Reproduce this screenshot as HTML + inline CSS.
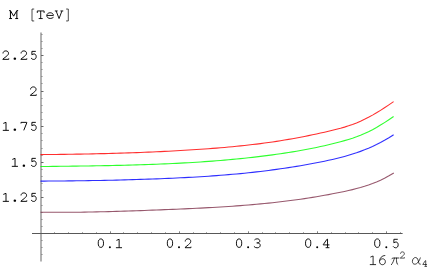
<!DOCTYPE html>
<html><head><meta charset="utf-8"><style>
html,body{margin:0;padding:0;background:#fff;}
svg{display:block}
</style></head><body>
<svg width="436" height="270" viewBox="0 0 436 270">
<rect width="436" height="270" fill="#fff"/>
<rect x="40" y="32.5" width="2" height="229" fill="#b2b2b2"/>
<rect x="32" y="233" width="370.6" height="1" fill="#585858"/>
<rect x="54" y="232.1" width="1" height="0.9" fill="#a0a0a0"/>
<rect x="68" y="232.1" width="1" height="0.9" fill="#a0a0a0"/>
<rect x="82" y="232.1" width="1" height="0.9" fill="#a0a0a0"/>
<rect x="96" y="232.1" width="1" height="0.9" fill="#a0a0a0"/>
<rect x="110" y="231.3" width="1" height="1.7" fill="#808080"/>
<rect x="123" y="232.1" width="1" height="0.9" fill="#a0a0a0"/>
<rect x="137" y="232.1" width="1" height="0.9" fill="#a0a0a0"/>
<rect x="151" y="232.1" width="1" height="0.9" fill="#a0a0a0"/>
<rect x="165" y="232.1" width="1" height="0.9" fill="#a0a0a0"/>
<rect x="179" y="231.3" width="1" height="1.7" fill="#808080"/>
<rect x="193" y="232.1" width="1" height="0.9" fill="#a0a0a0"/>
<rect x="206" y="232.1" width="1" height="0.9" fill="#a0a0a0"/>
<rect x="220" y="232.1" width="1" height="0.9" fill="#a0a0a0"/>
<rect x="234" y="232.1" width="1" height="0.9" fill="#a0a0a0"/>
<rect x="248" y="231.3" width="1" height="1.7" fill="#808080"/>
<rect x="262" y="232.1" width="1" height="0.9" fill="#a0a0a0"/>
<rect x="275" y="232.1" width="1" height="0.9" fill="#a0a0a0"/>
<rect x="289" y="232.1" width="1" height="0.9" fill="#a0a0a0"/>
<rect x="303" y="232.1" width="1" height="0.9" fill="#a0a0a0"/>
<rect x="317" y="231.3" width="1" height="1.7" fill="#808080"/>
<rect x="331" y="232.1" width="1" height="0.9" fill="#a0a0a0"/>
<rect x="345" y="232.1" width="1" height="0.9" fill="#a0a0a0"/>
<rect x="358" y="232.1" width="1" height="0.9" fill="#a0a0a0"/>
<rect x="372" y="232.1" width="1" height="0.9" fill="#a0a0a0"/>
<rect x="386" y="231.3" width="1" height="1.7" fill="#808080"/>
<rect x="400" y="232.1" width="1" height="0.9" fill="#a0a0a0"/>
<rect x="41" y="254" width="1.55" height="1" fill="#8e8e8e"/>
<rect x="41" y="247" width="1.55" height="1" fill="#8e8e8e"/>
<rect x="41" y="240" width="1.55" height="1" fill="#8e8e8e"/>
<rect x="41" y="226" width="1.55" height="1" fill="#8e8e8e"/>
<rect x="41" y="219" width="1.55" height="1" fill="#8e8e8e"/>
<rect x="41" y="212" width="1.55" height="1" fill="#8e8e8e"/>
<rect x="41" y="205" width="1.55" height="1" fill="#8e8e8e"/>
<rect x="41" y="197" width="2.5" height="1" fill="#666"/>
<rect x="41" y="190" width="1.55" height="1" fill="#8e8e8e"/>
<rect x="41" y="183" width="1.55" height="1" fill="#8e8e8e"/>
<rect x="41" y="176" width="1.55" height="1" fill="#8e8e8e"/>
<rect x="41" y="169" width="1.55" height="1" fill="#8e8e8e"/>
<rect x="41" y="162" width="2.5" height="1" fill="#666"/>
<rect x="41" y="155" width="1.55" height="1" fill="#8e8e8e"/>
<rect x="41" y="148" width="1.55" height="1" fill="#8e8e8e"/>
<rect x="41" y="140" width="1.55" height="1" fill="#8e8e8e"/>
<rect x="41" y="133" width="1.55" height="1" fill="#8e8e8e"/>
<rect x="41" y="126" width="2.5" height="1" fill="#666"/>
<rect x="41" y="119" width="1.55" height="1" fill="#8e8e8e"/>
<rect x="41" y="112" width="1.55" height="1" fill="#8e8e8e"/>
<rect x="41" y="105" width="1.55" height="1" fill="#8e8e8e"/>
<rect x="41" y="98" width="1.55" height="1" fill="#8e8e8e"/>
<rect x="41" y="91" width="2.5" height="1" fill="#666"/>
<rect x="41" y="83" width="1.55" height="1" fill="#8e8e8e"/>
<rect x="41" y="76" width="1.55" height="1" fill="#8e8e8e"/>
<rect x="41" y="69" width="1.55" height="1" fill="#8e8e8e"/>
<rect x="41" y="62" width="1.55" height="1" fill="#8e8e8e"/>
<rect x="41" y="55" width="2.5" height="1" fill="#666"/>
<rect x="41" y="48" width="1.55" height="1" fill="#8e8e8e"/>
<rect x="41" y="41" width="1.55" height="1" fill="#8e8e8e"/>
<rect x="41" y="34" width="1.55" height="1" fill="#8e8e8e"/>
<polyline points="40.5,212.19 44.5,212.24 48.5,212.28 52.5,212.30 56.5,212.31 60.5,212.32 64.5,212.31 68.5,212.29 72.5,212.26 76.5,212.22 80.5,212.18 84.5,212.12 88.5,212.05 92.5,211.98 96.5,211.90 100.5,211.81 104.5,211.72 108.5,211.62 112.5,211.51 116.5,211.40 120.5,211.28 124.5,211.15 128.5,211.02 132.5,210.88 136.5,210.74 140.5,210.60 144.5,210.45 148.5,210.30 152.5,210.15 156.5,209.99 160.5,209.83 164.5,209.67 168.5,209.51 172.5,209.35 176.5,209.18 180.5,209.01 184.5,208.84 188.5,208.66 192.5,208.47 196.5,208.28 200.5,208.09 204.5,207.88 208.5,207.67 212.5,207.45 216.5,207.22 220.5,206.98 224.5,206.73 228.5,206.47 232.5,206.20 236.5,205.91 240.5,205.62 244.5,205.30 248.5,204.98 252.5,204.64 256.5,204.28 260.5,203.91 264.5,203.52 268.5,203.11 272.5,202.69 276.5,202.25 280.5,201.78 284.5,201.30 288.5,200.80 292.5,200.28 296.5,199.74 300.5,199.17 304.5,198.59 308.5,197.98 312.5,197.35 316.5,196.69 320.5,196.02 324.5,195.31 328.5,194.59 332.5,193.83 336.5,193.06 340.5,192.25 344.5,191.42 348.5,190.54 352.5,189.60 356.5,188.59 360.5,187.49 364.5,186.29 368.5,184.96 372.5,183.50 376.5,181.90 380.5,180.13 384.5,178.20 388.5,176.08 392.5,173.76 393.8,172.97" fill="none" stroke="#80334d" stroke-width="1.1" stroke-opacity="0.82" stroke-linejoin="round"/>
<polyline points="40.5,181.11 44.5,181.09 48.5,181.07 52.5,181.04 56.5,181.01 60.5,180.97 64.5,180.94 68.5,180.90 72.5,180.85 76.5,180.80 80.5,180.75 84.5,180.69 88.5,180.63 92.5,180.57 96.5,180.50 100.5,180.43 104.5,180.35 108.5,180.27 112.5,180.18 116.5,180.09 120.5,179.99 124.5,179.89 128.5,179.78 132.5,179.67 136.5,179.55 140.5,179.42 144.5,179.29 148.5,179.15 152.5,179.01 156.5,178.86 160.5,178.70 164.5,178.54 168.5,178.37 172.5,178.19 176.5,178.01 180.5,177.81 184.5,177.61 188.5,177.40 192.5,177.18 196.5,176.95 200.5,176.71 204.5,176.45 208.5,176.19 212.5,175.91 216.5,175.62 220.5,175.32 224.5,175.00 228.5,174.67 232.5,174.32 236.5,173.96 240.5,173.58 244.5,173.19 248.5,172.78 252.5,172.35 256.5,171.90 260.5,171.44 264.5,170.95 268.5,170.45 272.5,169.92 276.5,169.38 280.5,168.82 284.5,168.23 288.5,167.63 292.5,167.00 296.5,166.35 300.5,165.68 304.5,164.99 308.5,164.28 312.5,163.54 316.5,162.78 320.5,161.99 324.5,161.18 328.5,160.33 332.5,159.43 336.5,158.49 340.5,157.49 344.5,156.43 348.5,155.30 352.5,154.08 356.5,152.78 360.5,151.37 364.5,149.86 368.5,148.23 372.5,146.47 376.5,144.57 380.5,142.53 384.5,140.33 388.5,137.96 392.5,135.42 393.6,134.69" fill="none" stroke="#0000ff" stroke-width="1.1" stroke-opacity="0.82" stroke-linejoin="round"/>
<polyline points="40.5,166.56 44.5,166.51 48.5,166.46 52.5,166.41 56.5,166.36 60.5,166.31 64.5,166.26 68.5,166.21 72.5,166.15 76.5,166.10 80.5,166.04 84.5,165.99 88.5,165.93 92.5,165.87 96.5,165.80 100.5,165.73 104.5,165.66 108.5,165.58 112.5,165.50 116.5,165.42 120.5,165.33 124.5,165.23 128.5,165.13 132.5,165.02 136.5,164.91 140.5,164.79 144.5,164.66 148.5,164.52 152.5,164.38 156.5,164.23 160.5,164.07 164.5,163.90 168.5,163.72 172.5,163.54 176.5,163.34 180.5,163.14 184.5,162.92 188.5,162.69 192.5,162.45 196.5,162.20 200.5,161.94 204.5,161.67 208.5,161.38 212.5,161.08 216.5,160.77 220.5,160.45 224.5,160.11 228.5,159.76 232.5,159.39 236.5,159.01 240.5,158.61 244.5,158.20 248.5,157.77 252.5,157.33 256.5,156.87 260.5,156.39 264.5,155.90 268.5,155.39 272.5,154.86 276.5,154.31 280.5,153.74 284.5,153.15 288.5,152.53 292.5,151.89 296.5,151.22 300.5,150.52 304.5,149.79 308.5,149.04 312.5,148.25 316.5,147.42 320.5,146.57 324.5,145.67 328.5,144.74 332.5,143.77 336.5,142.76 340.5,141.71 344.5,140.61 348.5,139.44 352.5,138.18 356.5,136.80 360.5,135.27 364.5,133.58 368.5,131.71 372.5,129.65 376.5,127.44 380.5,125.08 384.5,122.60 388.5,120.00 392.5,117.31 393.6,116.56" fill="none" stroke="#00ff00" stroke-width="1.1" stroke-opacity="0.82" stroke-linejoin="round"/>
<polyline points="40.5,154.59 44.5,154.56 48.5,154.52 52.5,154.48 56.5,154.44 60.5,154.39 64.5,154.33 68.5,154.28 72.5,154.22 76.5,154.15 80.5,154.09 84.5,154.01 88.5,153.94 92.5,153.85 96.5,153.77 100.5,153.67 104.5,153.58 108.5,153.47 112.5,153.36 116.5,153.25 120.5,153.13 124.5,153.00 128.5,152.87 132.5,152.73 136.5,152.59 140.5,152.44 144.5,152.28 148.5,152.12 152.5,151.94 156.5,151.77 160.5,151.58 164.5,151.39 168.5,151.18 172.5,150.98 176.5,150.76 180.5,150.54 184.5,150.30 188.5,150.06 192.5,149.81 196.5,149.55 200.5,149.29 204.5,149.01 208.5,148.72 212.5,148.42 216.5,148.10 220.5,147.77 224.5,147.43 228.5,147.07 232.5,146.70 236.5,146.31 240.5,145.91 244.5,145.48 248.5,145.04 252.5,144.57 256.5,144.09 260.5,143.59 264.5,143.06 268.5,142.51 272.5,141.94 276.5,141.34 280.5,140.72 284.5,140.07 288.5,139.40 292.5,138.70 296.5,137.97 300.5,137.22 304.5,136.44 308.5,135.63 312.5,134.80 316.5,133.95 320.5,133.08 324.5,132.19 328.5,131.27 332.5,130.33 336.5,129.33 340.5,128.27 344.5,127.11 348.5,125.85 352.5,124.44 356.5,122.89 360.5,121.17 364.5,119.30 368.5,117.28 372.5,115.11 376.5,112.80 380.5,110.36 384.5,107.81 388.5,105.16 392.5,102.42 393.6,101.65" fill="none" stroke="#ff0000" stroke-width="1.1" stroke-opacity="0.82" stroke-linejoin="round"/>
<g fill="none" stroke="#000" stroke-width="0.98" stroke-linecap="butt" stroke-linejoin="miter">
<g transform="translate(5.81 59.35) scale(1 0.95)"><path d="M-2.8,-6.2 C-2.8,-8.0 -1.5,-8.9 0,-8.9 C1.6,-8.9 2.7,-7.9 2.7,-6.4 C2.7,-5.1 1.9,-4.3 0.4,-3.0 L-3.0,-0.2 L-3.0,0 L2.95,0 L2.95,-1.0"/></g>
<g transform="translate(14.84 59.35) scale(1 0.95)"><circle cx="0" cy="-0.7" r="1.25" fill="#000" stroke="none"/></g>
<g transform="translate(23.87 59.35) scale(1 0.95)"><path d="M-2.8,-6.2 C-2.8,-8.0 -1.5,-8.9 0,-8.9 C1.6,-8.9 2.7,-7.9 2.7,-6.4 C2.7,-5.1 1.9,-4.3 0.4,-3.0 L-3.0,-0.2 L-3.0,0 L2.95,0 L2.95,-1.0"/></g>
<g transform="translate(33.70 59.35) scale(1 0.95)"><path d="M2.1,-8.4 L-1.8,-8.4 L-1.8,-4.8 C-1.1,-5.4 -0.4,-5.7 0.3,-5.7 C1.7,-5.7 2.5,-4.5 2.5,-2.9 C2.5,-1.1 1.5,0.1 0,0.1 C-1.1,0.1 -2.0,-0.4 -2.6,-1.4"/></g>
<g transform="translate(33.35 95.35) scale(1 0.95)"><path d="M-2.8,-6.2 C-2.8,-8.0 -1.5,-8.9 0,-8.9 C1.6,-8.9 2.7,-7.9 2.7,-6.4 C2.7,-5.1 1.9,-4.3 0.4,-3.0 L-3.0,-0.2 L-3.0,0 L2.95,0 L2.95,-1.0"/></g>
<g transform="translate(5.81 130.35) scale(1 0.95)"><path d="M0.2,0 L0.2,-8.45 L-2.5,-7.3 M-3.0,0 L3.1,0"/></g>
<g transform="translate(14.84 130.35) scale(1 0.95)"><circle cx="0" cy="-0.7" r="1.25" fill="#000" stroke="none"/></g>
<g transform="translate(23.87 130.35) scale(1 0.95)"><path d="M-2.9,-7.2 L-2.9,-8.4 L2.9,-8.4 L2.9,-7.9 L-0.1,0"/></g>
<g transform="translate(33.70 130.35) scale(1 0.95)"><path d="M2.1,-8.4 L-1.8,-8.4 L-1.8,-4.8 C-1.1,-5.4 -0.4,-5.7 0.3,-5.7 C1.7,-5.7 2.5,-4.5 2.5,-2.9 C2.5,-1.1 1.5,0.1 0,0.1 C-1.1,0.1 -2.0,-0.4 -2.6,-1.4"/></g>
<g transform="translate(14.84 166.35) scale(1 0.95)"><path d="M0.2,0 L0.2,-8.45 L-2.5,-7.3 M-3.0,0 L3.1,0"/></g>
<g transform="translate(23.87 166.35) scale(1 0.95)"><circle cx="0" cy="-0.7" r="1.25" fill="#000" stroke="none"/></g>
<g transform="translate(33.70 166.35) scale(1 0.95)"><path d="M2.1,-8.4 L-1.8,-8.4 L-1.8,-4.8 C-1.1,-5.4 -0.4,-5.7 0.3,-5.7 C1.7,-5.7 2.5,-4.5 2.5,-2.9 C2.5,-1.1 1.5,0.1 0,0.1 C-1.1,0.1 -2.0,-0.4 -2.6,-1.4"/></g>
<g transform="translate(5.81 201.35) scale(1 0.95)"><path d="M0.2,0 L0.2,-8.45 L-2.5,-7.3 M-3.0,0 L3.1,0"/></g>
<g transform="translate(14.84 201.35) scale(1 0.95)"><circle cx="0" cy="-0.7" r="1.25" fill="#000" stroke="none"/></g>
<g transform="translate(23.87 201.35) scale(1 0.95)"><path d="M-2.8,-6.2 C-2.8,-8.0 -1.5,-8.9 0,-8.9 C1.6,-8.9 2.7,-7.9 2.7,-6.4 C2.7,-5.1 1.9,-4.3 0.4,-3.0 L-3.0,-0.2 L-3.0,0 L2.95,0 L2.95,-1.0"/></g>
<g transform="translate(33.70 201.35) scale(1 0.95)"><path d="M2.1,-8.4 L-1.8,-8.4 L-1.8,-4.8 C-1.1,-5.4 -0.4,-5.7 0.3,-5.7 C1.7,-5.7 2.5,-4.5 2.5,-2.9 C2.5,-1.1 1.5,0.1 0,0.1 C-1.1,0.1 -2.0,-0.4 -2.6,-1.4"/></g>
<g transform="translate(100.87 247.70)" stroke-width="0.92"><ellipse cx="0" cy="-4.55" rx="2.65" ry="4.25"/></g>
<g transform="translate(109.90 247.70) scale(0.8)" stroke-width="0.92"><circle cx="0" cy="-0.7" r="1.25" fill="#000" stroke="none"/></g>
<g transform="translate(118.93 247.70)" stroke-width="0.92"><path d="M0.2,0 L0.2,-8.45 L-2.5,-7.3 M-3.0,0 L3.1,0"/></g>
<g transform="translate(169.97 247.70)" stroke-width="0.92"><ellipse cx="0" cy="-4.55" rx="2.65" ry="4.25"/></g>
<g transform="translate(179.00 247.70) scale(0.8)" stroke-width="0.92"><circle cx="0" cy="-0.7" r="1.25" fill="#000" stroke="none"/></g>
<g transform="translate(188.03 247.70)" stroke-width="0.92"><path d="M-2.8,-6.2 C-2.8,-8.0 -1.5,-8.9 0,-8.9 C1.6,-8.9 2.7,-7.9 2.7,-6.4 C2.7,-5.1 1.9,-4.3 0.4,-3.0 L-3.0,-0.2 L-3.0,0 L2.95,0 L2.95,-1.0"/></g>
<g transform="translate(239.07 247.70)" stroke-width="0.92"><ellipse cx="0" cy="-4.55" rx="2.65" ry="4.25"/></g>
<g transform="translate(248.10 247.70) scale(0.8)" stroke-width="0.92"><circle cx="0" cy="-0.7" r="1.25" fill="#000" stroke="none"/></g>
<g transform="translate(257.13 247.70)" stroke-width="0.92"><path d="M-2.7,-7.7 C-2.0,-8.5 -1.0,-8.9 0,-8.9 C1.6,-8.9 2.7,-8.0 2.7,-6.8 C2.7,-5.6 1.7,-4.8 0.1,-4.8 L-0.6,-4.8 M0.1,-4.8 C1.9,-4.8 3.1,-3.8 3.1,-2.4 C3.1,-0.9 1.8,0.1 0,0.1 C-1.3,0.1 -2.5,-0.4 -3.2,-1.3"/></g>
<g transform="translate(308.17 247.70)" stroke-width="0.92"><ellipse cx="0" cy="-4.55" rx="2.65" ry="4.25"/></g>
<g transform="translate(317.20 247.70) scale(0.8)" stroke-width="0.92"><circle cx="0" cy="-0.7" r="1.25" fill="#000" stroke="none"/></g>
<g transform="translate(326.23 247.70)" stroke-width="0.92"><path d="M1.3,0 L1.3,-8.5 L0.8,-8.5 L-3.0,-3.0 L-3.0,-2.8 L3.2,-2.8 M-0.6,0 L3.2,0"/></g>
<g transform="translate(377.27 247.70)" stroke-width="0.92"><ellipse cx="0" cy="-4.55" rx="2.65" ry="4.25"/></g>
<g transform="translate(386.30 247.70) scale(0.8)" stroke-width="0.92"><circle cx="0" cy="-0.7" r="1.25" fill="#000" stroke="none"/></g>
<g transform="translate(395.68 247.70)" stroke-width="0.92"><path d="M2.1,-8.4 L-1.8,-8.4 L-1.8,-4.8 C-1.1,-5.4 -0.4,-5.7 0.3,-5.7 C1.7,-5.7 2.5,-4.5 2.5,-2.9 C2.5,-1.1 1.5,0.1 0,0.1 C-1.1,0.1 -2.0,-0.4 -2.6,-1.4"/></g>
<g transform="translate(13.65 18.55)" stroke-width="1.0"><path d="M-4.5,0 L-1.6,0 M1.6,0 L4.5,0 M-3.2,0 L-3.2,-7.9 L0,-2.4 L3.2,-7.9 L3.2,0 M-4.5,-7.9 L-3.2,-7.9 M3.2,-7.9 L4.5,-7.9"/></g>
<g transform="translate(32.90 18.55)"><path stroke-width="0.7" d="M1.3,-9.5 L-0.9,-9.5 L-0.9,2.4 L1.3,2.4"/></g>
<g transform="translate(40.70 18.55)" stroke-width="0.9"><path d="M-3.4,-5.6 L-3.4,-7.6 L3.4,-7.6 L3.4,-5.6 M0,-7.6 L0,0 M-2.0,0 L2.0,0"/></g>
<g transform="translate(50.10 18.55)" stroke-width="0.9"><path d="M-3.3,-3.1 L3.3,-3.1 C3.3,-4.9 1.8,-5.8 0,-5.8 C-1.9,-5.8 -3.3,-4.6 -3.3,-3.0 C-3.3,-1.2 -1.9,-0.1 0.1,-0.1 C1.4,-0.1 2.6,-0.5 3.4,-1.3"/></g>
<g transform="translate(59.05 18.55)" stroke-width="0.9"><path d="M-4.2,-7.6 L-1.4,-7.6 M1.4,-7.6 L4.2,-7.6 M-2.9,-7.6 L0,0 L2.9,-7.6"/></g>
<g transform="translate(67.40 18.55)"><path stroke-width="0.7" d="M-1.3,-9.5 L0.9,-9.5 L0.9,2.4 L-1.3,2.4"/></g>
<g transform="translate(372.90 264.60) scale(1.02)" stroke-width="0.8"><path d="M0.2,0 L0.2,-8.45 L-2.5,-7.3 M-3.0,0 L3.1,0"/></g>
<g transform="translate(382.40 264.60) scale(1.02)" stroke-width="0.8"><path d="M2.8,-8.9 C-0.4,-8.9 -2.8,-6.4 -2.8,-3.0 C-2.8,-1.0 -1.6,0.1 0.1,0.1 C1.7,0.1 2.9,-1.1 2.9,-2.9 C2.9,-4.6 1.8,-5.7 0.2,-5.7 C-1.2,-5.7 -2.4,-4.7 -2.8,-3.2"/></g>
</g>
<g fill="none" stroke="#000" stroke-width="0.98" stroke-linecap="butt" stroke-linejoin="miter">
<g transform="translate(402.45 258.10) scale(0.7)"><path d="M-2.8,-6.2 C-2.8,-8.0 -1.5,-8.9 0,-8.9 C1.6,-8.9 2.7,-7.9 2.7,-6.4 C2.7,-5.1 1.9,-4.3 0.4,-3.0 L-3.0,-0.2 L-3.0,0 L2.95,0 L2.95,-1.0"/></g>
<g transform="translate(424.85 266.40) scale(0.68)"><path d="M1.3,0 L1.3,-8.5 L0.8,-8.5 L-3.0,-3.0 L-3.0,-2.8 L3.2,-2.8 M-0.6,0 L3.2,0"/></g>
</g>
<g fill="none" stroke="#000" stroke-width="0.75" stroke-linecap="round" stroke-linejoin="round">
<path d="M391.6,258.9 C392.2,258.2 392.8,258.0 393.8,258.0 L398.9,258.0 M394.4,258.1 C393.8,260.6 392.8,263.0 391.4,264.7 M396.5,258.1 C396.4,260.0 396.5,261.8 396.9,263.0 C397.1,263.8 397.4,264.4 397.8,264.6"/>
<path d="M420.3,257.9 C419.5,260.5 417.5,264.2 414.8,264.2 C413.2,264.2 412.4,263.0 412.4,261.4 C412.4,259.3 413.8,257.5 415.6,257.5 C417.6,257.5 418.2,260.2 418.6,262.4 C418.8,263.6 419.3,264.3 420.3,264.2"/>
</g>
</svg>
</body></html>
